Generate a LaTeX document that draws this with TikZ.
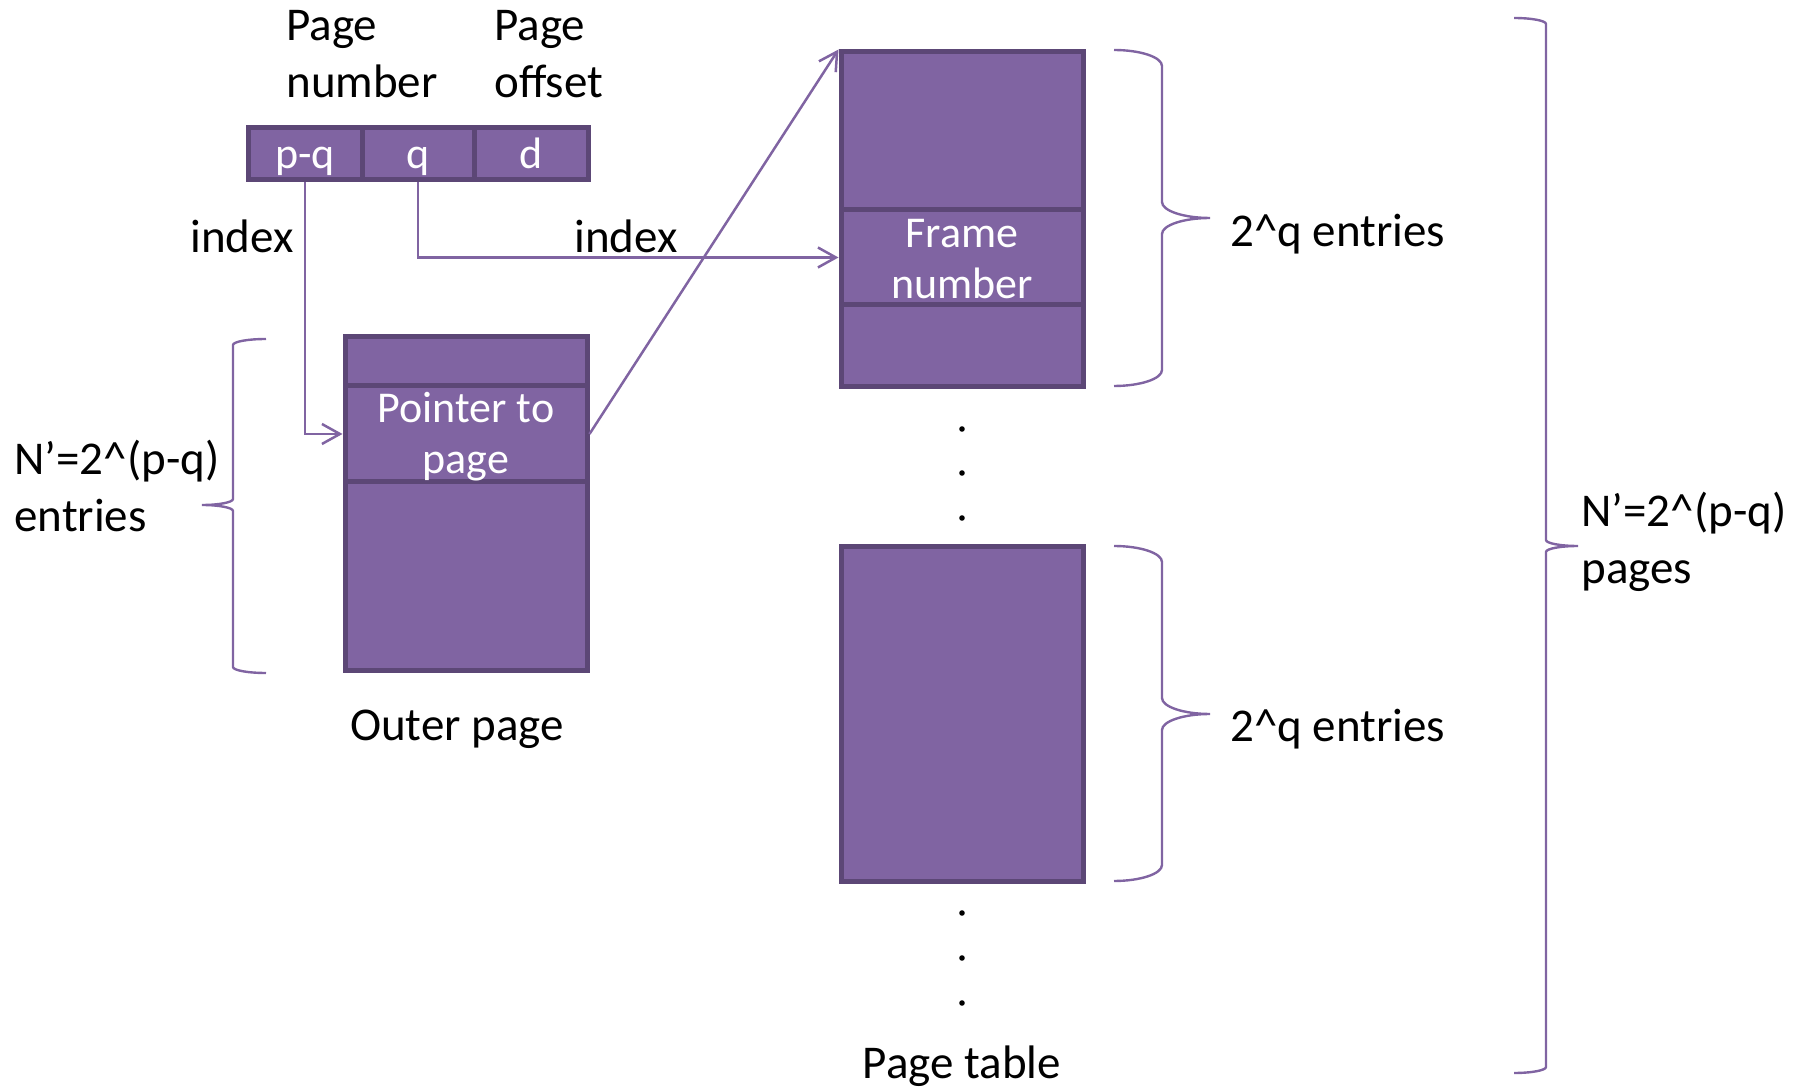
\documentclass[tikz,border=0pt]{standalone}
\usepackage{fontspec}
\setmainfont{Carlito}
\usetikzlibrary{arrows.meta,fit}
\definecolor{cellfill}{HTML}{8064A2}
\definecolor{cellline}{HTML}{5C4776}
\definecolor{linkcol}{HTML}{8064A2}

% curly brace: ends x, spine x, tip x, top y, middle y, bottom y, corner radius
\newcommand\curlybrace[7]{%
  \draw[bracestyle] (#1,#4) .. controls ({#1+0.55*(#2-#1)},#4) and (#2,{#4+0.45*#7}) .. (#2,{#4+#7})
    -- (#2,{#5-#7}) .. controls (#2,{#5-0.45*#7}) and ({#2+0.45*(#3-#2)},#5) .. (#3,#5)
    .. controls ({#2+0.45*(#3-#2)},#5) and (#2,{#5+0.45*#7}) .. (#2,{#5+#7})
    -- (#2,{#6-#7}) .. controls (#2,{#6-0.45*#7}) and ({#1+0.55*(#2-#1)},#6) .. (#1,#6);}

\begin{document}
\begin{tikzpicture}[x=0.5pt,y=-0.5pt,
  cell/.style={draw=cellline, fill=cellfill, line width=2.5pt, inner sep=0pt},
  celltext/.style={inner sep=0pt, text=white, font=\fontsize{22}{25.5}\selectfont, align=center},
  lbl/.style={inner sep=0pt, font=\fontsize{23.5}{28.8}\selectfont, align=left},
  conn/.style={draw=linkcol, line width=1.25pt, -{Straight Barb[length=9pt,width=10pt]}},
  bracestyle/.style={draw=linkcol, line width=1.2pt},
  dotmark/.style={circle, fill=black, inner sep=0pt, minimum size=2.8pt}]
\useasboundingbox (0,0) rectangle (1806,1090);

% logical address fields
\node[cell, fit={(248,128)(362,180)}] (a1) {};
\node[cell, fit={(362,128)(474,180)}] (a2) {};
\node[cell, fit={(474,128)(588,180)}] (a3) {};
\node[celltext, anchor=base] (a1t) at (305,169) {p-q};
\node[celltext, anchor=base] (a2t) at (418,169) {q};
\node[celltext, anchor=base] (a3t) at (531,169) {d};
\node[lbl, anchor=west] (pn) at (286,54) {Page\\number};
\node[lbl, anchor=west] (po) at (494,54) {Page\\offset};

% outer page table
\node[cell, fit={(345,337)(587,386)}] (op1) {};
\node[cell, fit={(345,386)(587,482)}] (op2) {};
\node[cell, fit={(345,482)(587,671)}] (op3) {};
\node[celltext] (op2t) at (466,437) {Pointer to\\page};
\node[lbl, anchor=center] (opl) at (457,729) {Outer page};

% page table, first page
\node[cell, fit={(841,52)(1083,210)}] (pt1) {};
\node[cell, fit={(841,210)(1083,305)}] (pt2) {};
\node[cell, fit={(841,305)(1083,387)}] (pt3) {};
\node[celltext] (pt2t) at (962,259) {Frame\\number};

% page table, last page
\node[cell, fit={(841,547)(1083,882)}] (pb) {};
\node[lbl, anchor=center] (ptl) at (962,1066) {Page table};

% ellipsis dots
\node[dotmark] (e1) at (962,429) {};
\node[dotmark] (e2) at (962,473) {};
\node[dotmark] (e3) at (962,518) {};
\node[dotmark] (e4) at (962,913) {};
\node[dotmark] (e5) at (962,958) {};
\node[dotmark] (e6) at (962,1003) {};

% index connectors
\draw[conn] (a1.south) |- (op2.west);
\draw[conn] (a2.south) |- (pt2.west);
\draw[conn] (op2.east) -- (pt1.north west);
\node[lbl, anchor=center] (ix1) at (242,236) {index};
\node[lbl, anchor=center] (ix2) at (626,236) {index};

% braces and their labels
\curlybrace{266}{233}{202}{339}{505}{673}{6}
\node[lbl, anchor=west] (nl) at (14,486) {N’=2\textasciicircum(p-q)\\entries};

\curlybrace{1114}{1162}{1210}{50}{218}{386}{16}
\node[lbl, anchor=west] (q1) at (1230,234) {2\textasciicircum q entries};

\curlybrace{1114}{1162}{1210}{546}{714}{881}{16}
\node[lbl, anchor=west] (q2) at (1230,729) {2\textasciicircum q entries};

\curlybrace{1514}{1546}{1578}{18}{546}{1073}{6}
\node[lbl, anchor=west] (nr) at (1581,542) {N’=2\textasciicircum(p-q)\\pages};
\end{tikzpicture}
\end{document}
